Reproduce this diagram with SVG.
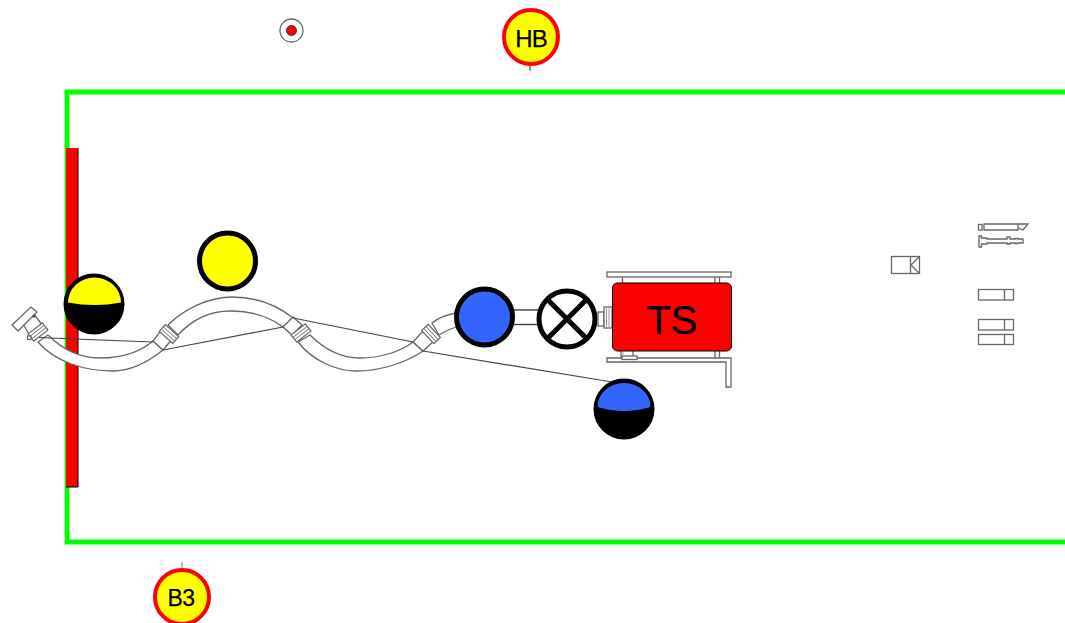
<svg xmlns="http://www.w3.org/2000/svg" width="1065" height="623" viewBox="0 0 1065 623">
<style>
text{font-family:"Liberation Sans",Arial,sans-serif;fill:#000;stroke:#000;stroke-width:.25;text-anchor:middle}
.g{fill:none;stroke:#00ff00;stroke-width:4.8}
.t{fill:#fff;stroke:#666;stroke-width:1.3}
.tp{fill:none;stroke:#666;stroke-width:1.3}
.hose{fill:#fff;stroke:#666;stroke-width:1.3}
.ln{fill:none;stroke:#444;stroke-width:1.2}
.big{stroke:#000;stroke-width:5}
.tag{fill:#ff0;stroke:#f00;stroke-width:4}
</style>
<defs>
<g id="coll"><rect x="-9" y="-4.500" width="18" height="9" fill="#fff" stroke="#666" stroke-width="1.2"/><path d="M-9 -1.500H9M-9 1.500H9" fill="none" stroke="#888"/></g>
</defs>
<g id="wall"><path class="g" d="M1065 92H67V542H1065"/></g>
<g id="bar"><rect x="66" y="148" width="12" height="339" fill="#f00"/><path d="M78 148V487H66" fill="none" stroke="#000"/></g>
<g id="connectors">
<path class="hose" d="M48 335C60 347 78 358 100 358C122 358 140 352 153 341L163 350C148 362 130 371 113 371C85 371 55 362 38 342Z"/>
<path class="hose" d="M168 325C185 308 210 297 232 297C258 297 278 306 293 318L283 327C268 316 250 311 230 311C208 311 190 322 178 335Z"/>
<path class="hose" d="M310 335C325 350 342 358 360 358C380 358 400 352 413 342L423 351C405 363 380 371 357 371C335 371 312 360 298 342Z"/>
<path class="hose" d="M432 323C438 318 445 315 456 313L456 327C450 329 445 331 439 335Z"/>
<path class="t" d="M153 341L163 350L173 338L163 328Z"/>
<path class="t" d="M283 327L293 317L302 325L292 335Z"/>
<path class="t" d="M413 342L423 351L435 340L424 330Z"/>
<path class="ln" d="M30 337L50 338L100 340L153 342"/>
<path class="ln" d="M163 350L283 327"/>
<path class="ln" d="M293 318L413 342"/>
<path class="ln" d="M423 351L612 382"/>
</g>
<g id="coupling1"><use href="#coll" transform="translate(169,334) rotate(42)"/></g>
<g id="coupling2"><use href="#coll" transform="translate(301,333) rotate(-38)"/></g>
<g id="coupling3"><use href="#coll" transform="translate(431,334) rotate(47)"/></g>
<g id="end-fitting">
<path class="t" d="M22 322L33 313L43 326L30 336Z"/>
<path class="t" d="M12 325L31 307L37 312L18 331Z"/>
<use href="#coll" transform="translate(38,332) rotate(-38)"/>
<circle cx="34" cy="316" r="1.500" fill="#444"/>
<rect x="27.500" y="336" width="3.500" height="3.500" class="t" stroke="#000"/>
</g>
<g id="tank-yellow"><circle cx="227.500" cy="261" r="28" fill="#ff0" class="big"/></g>
<g id="gauge-yellow"><circle cx="94" cy="304" r="28" fill="#000" class="big"/><path d="M68 302.500A26.500 25 0 0 1 121 302.500Q94 307.500 68 302.500Z" fill="#ff0"/></g>
<g id="pipe"><rect x="510" y="310" width="30" height="14.500" fill="#fff" stroke="#333" stroke-width="1.300"/></g>
<g id="pump-blue"><circle cx="484.500" cy="317" r="28" fill="#36f" class="big"/></g>
<g id="valve"><circle cx="567" cy="319" r="28" fill="#fff" class="big"/><path d="M548 300L586 338M586 300L548 338" class="big" fill="none"/></g>
<g id="gauge-blue"><circle cx="624" cy="409" r="28" fill="#000" class="big"/><path d="M597.500 407A26.500 24 0 0 1 650.500 407Q624 415 597.500 407Z" fill="#36f"/></g>
<g id="ts-frame">
<rect x="607" y="272" width="124" height="5" class="t"/>
<path class="tp" d="M622.500 283V277M715 283V277M719.500 283V277M621 350V358M633 350V358M715 350V358M719.500 350V358"/>
<path class="t" d="M607 358H731V387H726V362H607Z"/>
<rect x="622" y="356" width="15" height="3.500" class="t"/>
<path d="M623 352V356" stroke="#8c4" fill="none"/>
<rect x="598" y="312" width="6" height="14" class="t"/>
<rect x="604" y="307" width="8" height="21" class="t"/>
<path d="M606.500 307V328M609 307V328" fill="none" stroke="#999"/>
</g>
<g id="ts"><rect x="612.500" y="283" width="119" height="68" rx="5" fill="#f00" stroke="#000"/><text x="672" y="334" font-size="40">TS</text></g>
<g id="target"><circle cx="291.500" cy="30.500" r="11.500" fill="#fff" stroke="#666" stroke-width="1.300"/><circle cx="291.500" cy="30.500" r="5" fill="#f00" stroke="#333"/></g>
<g id="hb"><path d="M530 65V71" stroke="#333"/><circle cx="531" cy="37" r="27" class="tag"/><text x="531" y="46.500" font-size="24" letter-spacing="-1">HB</text></g>
<g id="b3"><path d="M182 562V568" stroke="#777"/><circle cx="182" cy="597" r="27" class="tag"/><text x="181" y="606" font-size="23" letter-spacing="-.5">B3</text></g>
<g id="box"><rect x="891.500" y="256.500" width="28" height="17" class="t"/><path d="M910.500 256.500V273.500M919.500 256.500L911 265L919.500 273.500" class="tp"/></g>
<g id="tool1"><rect x="978.500" y="224.500" width="3.500" height="5.500" class="t"/><path class="t" d="M984 224H1018V230H984Z"/><path class="tp" d="M1018 224H1028L1023 230L1018 228"/></g>
<g id="tool2"><path class="t" d="M979 236H981.500V238H987V239H1007V237H1010V239H1015V238.500H1018V239H1023V243H1018V243.500H1015V243H1010V244H1007V243H987V244H981.500V247H979Z"/></g>
<g id="slot1"><rect x="978.500" y="289.500" width="35" height="10.500" class="t"/><path class="tp" d="M1004.500 289.500V300"/></g>
<g id="slot2"><rect x="978.500" y="319.500" width="35" height="10.500" class="t"/><path class="tp" d="M1004.500 319.500V330"/></g>
<g id="slot3"><rect x="978.500" y="334.500" width="35" height="10" class="t"/><path class="tp" d="M1004.500 334.500V344.500"/></g>
</svg>
